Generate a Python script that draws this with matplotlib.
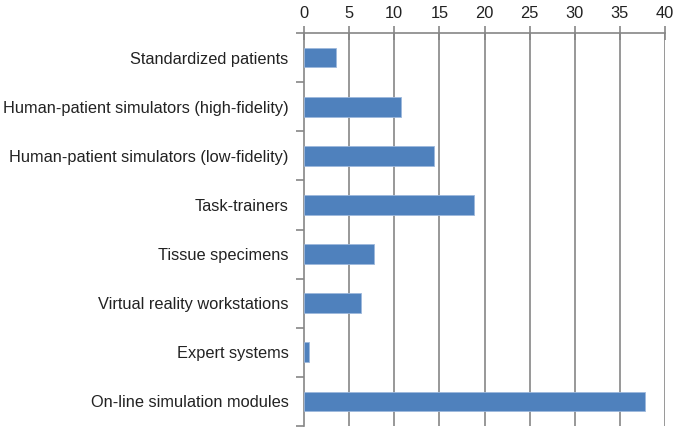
import matplotlib
matplotlib.use("Agg")
import matplotlib.pyplot as plt
import numpy as np

categories = ["Standardized patients",
              "Human-patient simulators (high-fidelity)",
              "Human-patient simulators (low-fidelity)",
              "Task-trainers",
              "Tissue specimens",
              "Virtual reality workstations",
              "Expert systems",
              "On-line simulation modules"]
values = [3.6, 10.8, 14.4, 18.8, 7.8, 6.3, 0.5, 37.8]
xticks = [0, 5, 10, 15, 20, 25, 30, 35, 40]

plt.rcParams['font.family'] = ['Liberation Sans', 'DejaVu Sans']

fig = plt.figure(figsize=(6.74, 4.28), dpi=100)
ax = fig.add_axes([304/674, 1 - 426/428, (665-304)/674, (426-33)/428])

y = np.arange(len(categories))
ax.barh(y, values, height=0.4, color='#4F81BD', edgecolor='#9DB8DC', linewidth=0.6, zorder=3)
ax.set_ylim(len(categories) - 0.5, -0.5)
ax.set_xlim(0, 40)

ax.xaxis.tick_top()
ax.set_xticks(xticks)
ax.set_xticklabels([str(t) for t in xticks], fontsize=11.8, color='#222222')
ax.tick_params(axis='x', direction='inout', length=10, color='#868686', width=1.2, pad=4)
for t in xticks[1:]:
    ax.axvline(t, color='#868686', lw=1.2, zorder=1)

ax.set_yticks(y)
ax.set_yticklabels(categories, fontsize=11.8, color='#222222')
ax.tick_params(axis='y', which='major', length=0, pad=11)
ax.set_yticks(np.arange(len(categories) + 1) - 0.5, minor=True)
ax.tick_params(axis='y', which='minor', direction='out', length=6, color='#868686', width=1.2)

for s in ['right', 'bottom']:
    ax.spines[s].set_visible(False)
for s in ['left', 'top']:
    ax.spines[s].set_color('#868686')
    ax.spines[s].set_linewidth(1.2)

fig.savefig("out.png", dpi=100)
